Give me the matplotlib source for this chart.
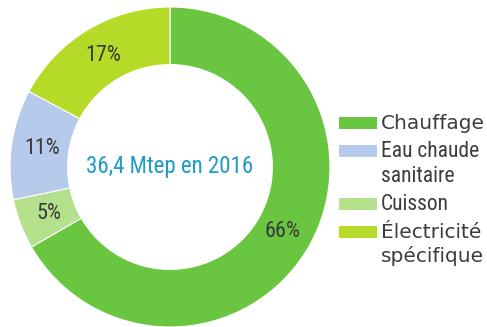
import matplotlib
matplotlib.use("Agg")
import matplotlib.pyplot as plt
from matplotlib.patches import Rectangle
import numpy as np

# Parts de la consommation (sens horaire depuis le haut)
categories = ["Chauffage", "Cuisson", "Eau chaude\nsanitaire", "Électricité\nspécifique"]
values = [66, 5, 11, 17]
colors = ["#6ac640", "#b6e18c", "#b6caec", "#b5da27"]
total_label = "36,4 Mtep en 2016"

# ordre d'affichage dans la légende
legend_order = [0, 2, 1, 3]

NARROW = ["Roboto Condensed", "DejaVu Sans"]
WIDE = ["DejaVu Sans"]
narrow_labels = {"Cuisson", "Eau chaude\nsanitaire"}

fig = plt.figure(figsize=(4.87, 3.27), dpi=100)
W, H = 487, 327

# anneau: centre (170, 167), rayon 160 px
cx, cy, r = 170, 167, 160
ax = fig.add_axes([(cx - r) / W, (H - cy - r) / H, 2 * r / W, 2 * r / H])
wedges, _ = ax.pie(values, colors=colors, startangle=90, counterclock=False,
                   radius=1.0, wedgeprops=dict(width=0.36, edgecolor="white", linewidth=0.8))
ax.set_xlim(-1, 1)
ax.set_ylim(-1, 1)
ax.set_aspect("equal")
ax.axis("off")

# étiquettes de pourcentage au milieu de chaque secteur
for w, v in zip(wedges, values):
    ang = np.deg2rad((w.theta1 + w.theta2) / 2)
    ax.text(0.81 * np.cos(ang), 0.81 * np.sin(ang), f"{v}%", ha="center", va="center",
            fontsize=16, color="#3a3a3a", family=NARROW)

ax.text(0, 0, total_label, ha="center", va="center", fontsize=16.5,
        color="#1d9ac8", family=NARROW)

# légende: une ligne de texte par ligne, ligne de base alignée sur le bas du carré
row_base = [129, 157, 210, 238]
line_gap = 24.5
for i, yb in zip(legend_order, row_base):
    fig.add_artist(Rectangle((339 / W, 1 - yb / H), 38 / W, 12.5 / H,
                             transform=fig.transFigure, facecolor=colors[i], edgecolor="none"))
    narrow = categories[i] in narrow_labels
    fam = NARROW if narrow else WIDE
    size = 15.5 if narrow else 14.5
    for k, line in enumerate(categories[i].split("\n")):
        fig.text(381 / W, 1 - (yb + k * line_gap) / H, line, ha="left", va="baseline",
                 fontsize=size, color="#3d3d3d", family=fam)

fig.savefig("out.png", dpi=100)
